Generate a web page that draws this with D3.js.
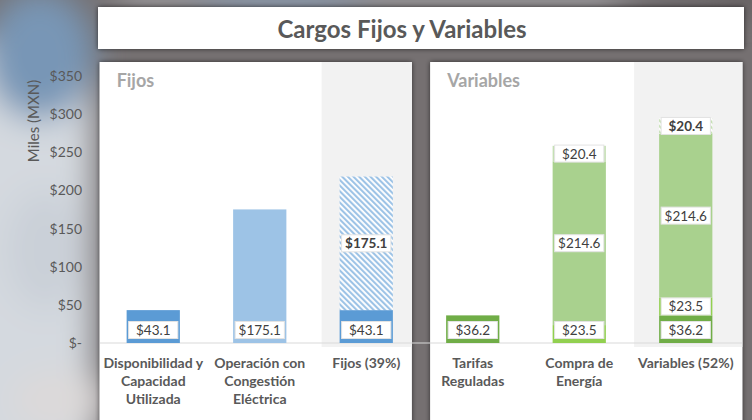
<!DOCTYPE html>
<html>
<head>
<meta charset="utf-8">
<script src="https://cdn.jsdelivr.net/npm/d3@7"></script>
<style>
  body { margin: 0; background: #747071; }
  svg { display: block; font-family: Lato, "Open Sans", sans-serif; }
</style>
</head>
<body>
<div id="chart"></div>
<script>
// ---- data ----
const categories = [
  "Disponibilidad y Capacidad Utilizada",
  "Operación con Congestión Eléctrica",
  "Fijos (39%)",
  "Tarifas Reguladas",
  "Compra de Energía",
  "Variables (52%)"
];
const categoryLines = [
  ["Disponibilidad y", "Capacidad", "Utilizada"],
  ["Operación con", "Congestión", "Eléctrica"],
  ["Fijos (39%)"],
  ["Tarifas", "Reguladas"],
  ["Compra de", "Energía"],
  ["Variables (52%)"]
];
const seriesKeys = ["disponibilidad", "operacion", "tarifas", "energiaBase", "energiaMedia", "energiaPunta"];
const disponibilidad = [43.1, 0, 43.1, 0, 0, 0];
const operacion      = [0, 175.1, 175.1, 0, 0, 0];
const tarifas        = [0, 0, 0, 36.2, 0, 36.2];
const energiaBase    = [0, 0, 0, 0, 23.5, 23.5];
const energiaMedia   = [0, 0, 0, 0, 214.6, 214.6];
const energiaPunta   = [0, 0, 0, 0, 20.4, 20.4];
const yTicks = [0, 50, 100, 150, 200, 250, 300, 350];
const panelTitles = ["Fijos", "Variables"];
const chartTitle = "Cargos Fijos y Variables";
const yTitle = "Miles (MXN)";

const values = { disponibilidad, operacion, tarifas, energiaBase, energiaMedia, energiaPunta };
const table = categories.map((c, i) => {
  const row = { category: c };
  seriesKeys.forEach(k => row[k] = values[k][i]);
  return row;
});

// ---- colours ----
const colors = {
  disponibilidad: "#5b9bd5",
  operacion: "#9dc3e6",
  tarifas: "#70ad47",
  energiaBase: "#92d050",
  energiaMedia: "#a9d18e",
  energiaPunta: "#c5e0b4"
};
const totalCols = ["Fijos (39%)", "Variables (52%)"];
const hatched = { operacion: "hatchBlue", energiaPunta: "hatchGreen" };

const W = 752, H = 420;
const svg = d3.select("#chart").append("svg").attr("width", W).attr("height", H);
const defs = svg.append("defs");

// background blur + shadows
defs.append("filter").attr("id", "bgBlur").attr("x", "-50%").attr("y", "-50%")
  .attr("width", "200%").attr("height", "200%")
  .append("feGaussianBlur").attr("stdDeviation", 16);
const sh = defs.append("filter").attr("id", "shadow").attr("x", "-10%").attr("y", "-10%")
  .attr("width", "120%").attr("height", "130%");
sh.append("feDropShadow").attr("dx", 0).attr("dy", 0).attr("stdDeviation", 2.5)
  .attr("flood-color", "#000").attr("flood-opacity", 0.6);

function hatch(id, color) {
  const p = defs.append("pattern").attr("id", id).attr("patternUnits", "userSpaceOnUse")
    .attr("width", 4).attr("height", 4).attr("patternTransform", "rotate(-45)");
  p.append("rect").attr("width", 4).attr("height", 4).attr("fill", "#fff");
  p.append("rect").attr("width", 2.1).attr("height", 4).attr("fill", color);
}
hatch("hatchBlue", "#9dc3e6");
hatch("hatchGreen", "#c5e0b4");

// blurry backdrop
svg.append("rect").attr("width", W).attr("height", H).attr("fill", "#757071");
const bg = svg.append("g").attr("filter", "url(#bgBlur)");
bg.append("rect").attr("x", -40).attr("y", 40).attr("width", 134).attr("height", 420).attr("fill", "#d4d9df");
bg.append("ellipse").attr("cx", 40).attr("cy", 55).attr("rx", 55).attr("ry", 65).attr("fill", "#7896b6");
bg.append("ellipse").attr("cx", 45).attr("cy", 250).attr("rx", 40).attr("ry", 60).attr("fill", "#cad0d8");
bg.append("ellipse").attr("cx", 60).attr("cy", 400).attr("rx", 50).attr("ry", 30).attr("fill", "#dcd9d9");
bg.append("rect").attr("x", 120).attr("y", -20).attr("width", 600).attr("height", 26).attr("fill", "#a3a2a6");
bg.append("ellipse").attr("cx", 280).attr("cy", 0).attr("rx", 90).attr("ry", 14).attr("fill", "#8a9db3");
bg.append("ellipse").attr("cx", 700).attr("cy", 0).attr("rx", 90).attr("ry", 14).attr("fill", "#5f5a5b");

// ---- scales ----
const x = d3.scaleBand().domain(categories).range([100, 739]).paddingInner(0.5).paddingOuter(0.25);
const y = d3.scaleLinear().domain([0, 350]).range([343, 76]);
const bw = x.bandwidth();

// ---- panels ----
const panels = [
  { x0: x(categories[0]) - 27, x1: x(categories[2]) + bw + 19, g0: x(categories[2]) - 18 },
  { x0: x(categories[3]) - 16, x1: x(categories[5]) + bw + 30, g0: x(categories[5]) - 25 }
];
panels.forEach((p, i) => {
  svg.append("rect").attr("x", p.x0).attr("y", 62).attr("width", p.x1 - p.x0).attr("height", 380)
    .attr("fill", "#fff").attr("filter", "url(#shadow)");
  svg.append("rect").attr("x", p.g0).attr("y", 62).attr("width", p.x1 - p.g0).attr("height", y(0) + 4 - 62)
    .attr("fill", "#f2f2f2");
  svg.append("text").attr("x", p.x0 + 17).attr("y", 87)
    .attr("fill", "#a6a6a6").style("font-size", "18px").style("font-weight", "bold")
    .text(panelTitles[i]);
});

// title box
svg.append("rect").attr("x", 98).attr("y", 7).attr("width", 646).attr("height", 42)
  .attr("fill", "#fff").attr("filter", "url(#shadow)");
svg.append("text").attr("x", 402).attr("y", 38).attr("text-anchor", "middle")
  .attr("fill", "#595959").style("font-size", "24px").style("font-weight", "bold")
  .text(chartTitle);

// baseline
svg.append("line").attr("x1", 100).attr("x2", 742).attr("y1", y(0)).attr("y2", y(0))
  .attr("stroke", "#d9d9d9").attr("stroke-width", 1.2);

// ---- y axis ----
const yAxis = d3.axisLeft(y).tickValues(yTicks).tickSize(0).tickPadding(3)
  .tickFormat(d => d === 0 ? "$-" : "$" + d);
svg.append("g").attr("transform", "translate(85,0)").call(yAxis)
  .call(g => g.select(".domain").remove())
  .selectAll("text").attr("fill", "#595959").style("font-size", "14px")
  .style("font-family", "Lato, sans-serif");

svg.append("text").attr("transform", "translate(39,121) rotate(-90)")
  .attr("text-anchor", "middle").attr("fill", "#595959").style("font-size", "15px")
  .text(yTitle);

// ---- bars ----
const stacked = d3.stack().keys(seriesKeys)(table);
const fillFor = (key, cat) => {
  if (totalCols.includes(cat) && hatched[key]) return `url(#${hatched[key]})`;
  return colors[key];
};

const layers = svg.append("g").selectAll("g").data(stacked).join("g");
layers.selectAll("rect")
  .data(s => s.map(d => ({ key: s.key, d })).filter(o => o.d[1] - o.d[0] > 0))
  .join("rect")
  .attr("x", o => x(o.d.data.category))
  .attr("y", o => y(o.d[1]))
  .attr("width", bw)
  .attr("height", o => y(o.d[0]) - y(o.d[1]))
  .attr("fill", o => fillFor(o.key, o.d.data.category));

// ---- data labels ----
const segs = [];
stacked.forEach(s => s.forEach(d => {
  if (d[1] - d[0] > 0) segs.push({ key: s.key, d });
}));
const fmt = d3.format(".1f");
const labelG = svg.append("g");
segs.forEach(o => {
  const cat = o.d.data.category;
  const cx = x(cat) + bw / 2;
  const cy = o.d[0] === 0 ? y(0) - 13 : (y(o.d[0]) + y(o.d[1])) / 2;
  const bold = totalCols.includes(cat) && hatched[o.key];
  const g = labelG.append("g");
  const t = g.append("text").attr("x", cx).attr("y", cy + 5).attr("text-anchor", "middle")
    .attr("fill", "#404040").style("font-size", "13.5px").style("font-weight", bold ? "bold" : "normal")
    .text("$" + fmt(o.d[1] - o.d[0]));
  const tw = t.node().getComputedTextLength();
  const bwid = Math.min(tw + 16, bw - 4);
  g.insert("rect", "text").attr("x", cx - bwid / 2).attr("y", cy - 8.5)
    .attr("width", bwid).attr("height", 17)
    .attr("fill", "#fff").attr("stroke", "#e3e3e3").attr("stroke-width", 1);
});

// ---- category labels ----
categories.forEach((c, i) => {
  const t = svg.append("text").attr("text-anchor", "middle").attr("fill", "#595959")
    .style("font-size", "14px").style("font-weight", "bold");
  categoryLines[i].forEach((line, j) => {
    t.append("tspan").attr("x", x(c) + bw / 2).attr("y", 368 + j * 18).text(line);
  });
});
</script>
</body>
</html>
